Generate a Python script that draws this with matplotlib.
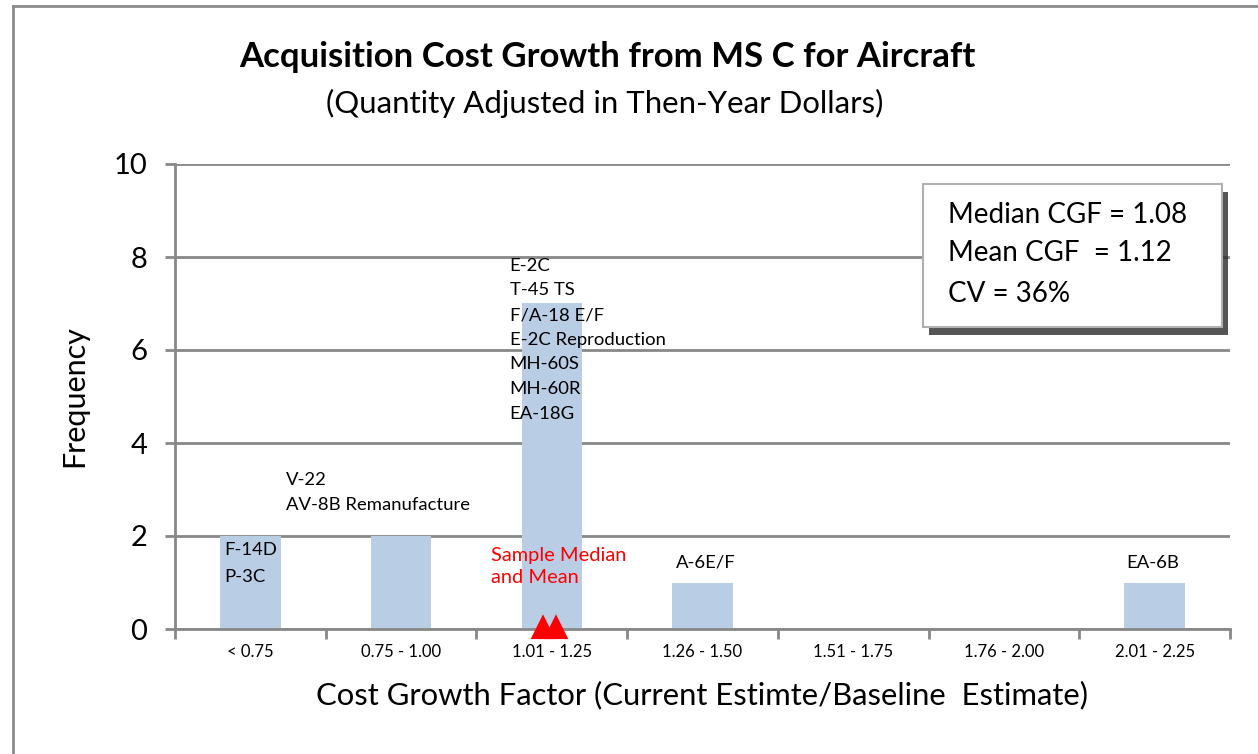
import matplotlib.pyplot as plt
from matplotlib.patches import Rectangle
from matplotlib.lines import Line2D

plt.rcParams['font.family'] = ['Lato', 'DejaVu Sans']

# data
bins = ['< 0.75', '0.75 - 1.00', '1.01 - 1.25', '1.26 - 1.50',
        '1.51 - 1.75', '1.76 - 2.00', '2.01 - 2.25']
freq = [2, 2, 7, 1, 0, 0, 1]
bin_programs = {
    0: ['F-14D', 'P-3C'],
    1: ['V-22', 'AV-8B Remanufacture'],
    2: ['E-2C', 'T-45 TS', 'F/A-18 E/F', 'E-2C Reproduction', 'MH-60S', 'MH-60R', 'EA-18G'],
    3: ['A-6E/F'],
    6: ['EA-6B'],
}
# median / mean marker positions on the category axis
stat_pos = [1.94, 2.03]
stats_text = ['Median CGF = 1.08', 'Mean CGF  = 1.12', 'CV = 36%']

bar_color = '#b9cde5'
grid_color = '#888888'

fig = plt.figure(figsize=(12.58, 7.54), dpi=100)
W, H = 1258, 754

def fx(px):
    return px / W

def fy(py):
    return 1 - py / H

# outer chart frame (left and top edges show)
fig.add_artist(Line2D([fx(13), fx(13)], [fy(6), 0], color='#8c8c8c', lw=2))
fig.add_artist(Line2D([fx(13), 1], [fy(6), fy(6)], color='#8c8c8c', lw=2))

ax = fig.add_axes([fx(175), fy(629), fx(1230) - fx(175), fy(164) - fy(629)])
x = list(range(len(bins)))
ax.bar(x, freq, width=0.4, color=bar_color, zorder=2)
ax.set_xlim(-0.5, len(bins) - 0.5)
ax.set_ylim(0, 10)
ax.set_yticks([0, 2, 4, 6, 8, 10])
ax.yaxis.grid(True, color=grid_color, lw=2)
ax.set_axisbelow(True)
for s in ['top', 'right']:
    ax.spines[s].set_visible(False)
for s in ['left', 'bottom']:
    ax.spines[s].set_color(grid_color)
    ax.spines[s].set_linewidth(2)

ax.set_xticks(x)
ax.set_xticklabels(bins, fontsize=12)
ax.set_xticks([i - 0.5 for i in range(len(bins) + 1)], minor=True)
ax.tick_params(axis='x', which='major', length=0, pad=11)
ax.tick_params(axis='x', which='minor', length=7, width=2, color=grid_color)
ax.tick_params(axis='y', length=7, width=2, color=grid_color, labelsize=21, pad=13)

ax.set_ylabel('Frequency', fontsize=22, labelpad=18)
ax.set_xlabel('Cost Growth Factor (Current Estimte/Baseline  Estimate)',
              fontsize=22.3, labelpad=15)

# program labels
fs = 13.3
step = 0.53
ax.text(-0.175, 1.70, bin_programs[0][0], fontsize=fs, va='center')
ax.text(-0.175, 1.12, bin_programs[0][1], fontsize=fs, va='center')
for i, name in enumerate(bin_programs[1]):
    ax.text(0.237, 3.20 - i * step, name, fontsize=fs, va='center')
for i, name in enumerate(bin_programs[2]):
    ax.text(1.72, 7.81 - i * step, name, fontsize=fs, va='center')
ax.text(3.02, 1.42, bin_programs[3][0], fontsize=fs, va='center', ha='center')
ax.text(5.99, 1.42, bin_programs[6][0], fontsize=fs, va='center', ha='center')

ax.text(1.60, 1.59, 'Sample Median', fontsize=14.4, color='red', va='center')
ax.text(1.60, 1.10, 'and Mean', fontsize=14.4, color='red', va='center')
ax.plot(stat_pos, [0.03] * len(stat_pos), '^', color='red', ms=13, mew=3,
        mec='red', clip_on=False, zorder=5)

# titles
fig.text(fx(607), fy(57), 'Acquisition Cost Growth from MS C for Aircraft',
         fontsize=25, fontweight='bold', ha='center', va='center')
fig.text(fx(605), fy(103), '(Quantity Adjusted in Then-Year Dollars)',
         fontsize=22.4, ha='center', va='center')

# stats box with shadow
bx0, by0, bx1, by1 = 923, 184, 1222, 327
fig.add_artist(Rectangle((fx(bx0 + 6), fy(by1 + 8)), fx(bx1 - bx0), fy(by0) - fy(by1),
                         facecolor='#2a2a2a', edgecolor='none', alpha=0.8))
fig.add_artist(Rectangle((fx(bx0), fy(by1)), fx(bx1 - bx0), fy(by0) - fy(by1),
                         facecolor='white', edgecolor='#b0b0b0', lw=1.5))
for py, s in zip([215, 253, 294], stats_text):
    fig.text(fx(948), fy(py), s, fontsize=20, va='center')

fig.savefig('out.png', dpi=100)
